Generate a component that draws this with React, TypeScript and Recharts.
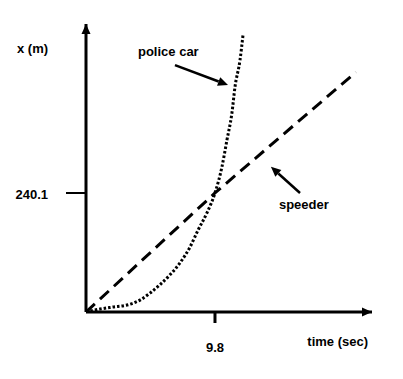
import React from "react";
import { LineChart, Line, XAxis, YAxis, ReferenceLine, ReferenceDot, Label } from "recharts";

// Police car position (m) vs time (sec)
const policeTime = [0, 1.06, 2.05, 3.11, 4.1, 4.86, 5.62, 6.38, 7.14, 7.9, 8.51, 9.19, 9.8, 10.33, 10.71, 11.09, 11.32, 11.7, 11.93];
const policePos = [0, 6, 10, 14, 24, 38, 55, 75, 99, 131, 165, 200, 240.1, 293, 347, 402, 454, 508, 559];

// Speeder position (m) vs time (sec)
const speederTime = [0, 9.8, 20.51];
const speederPos = [0, 240.1, 484];

// Tick values
const xTicks = [9.8];
const yTicks = [240.1];
const xTickLabels = ["9.8"];
const yTickLabels = ["240.1"];

const X_MAX = 21.73;
const Y_MAX = 581;

const policeData = policeTime.map((t, i) => ({ t, x: policePos[i] }));
const speederData = speederTime.map((t, i) => ({ t, x: speederPos[i] }));

const FONT = "'Liberation Sans', Arial, sans-serif";
const textStyle = { fontFamily: FONT, fontWeight: 700, fontSize: 13, fill: "#000" } as const;

const arrowShape = (props: any) => {
  const { x1, y1, x2, y2 } = props;
  const ang = Math.atan2(y2 - y1, x2 - x1);
  const len = 10;
  const hw = 4.5;
  const bx = x2 - len * Math.cos(ang);
  const by = y2 - len * Math.sin(ang);
  const px = -Math.sin(ang) * hw;
  const py = Math.cos(ang) * hw;
  return (
    <g>
      <line x1={x1} y1={y1} x2={bx} y2={by} stroke="#000" strokeWidth={2.5} />
      <polygon points={`${x2},${y2} ${bx + px},${by + py} ${bx - px},${by - py}`} fill="#000" />
    </g>
  );
};

const XTick = (props: any) => {
  const { x, y, payload } = props;
  const idx = xTicks.indexOf(payload.value);
  return (
    <text x={x} y={y + 29} textAnchor="middle" style={textStyle}>
      {xTickLabels[idx] ?? payload.value}
    </text>
  );
};

const YTick = (props: any) => {
  const { x, y, payload } = props;
  const idx = yTicks.indexOf(payload.value);
  return (
    <text x={x - 18} y={y + 6} textAnchor="end" style={textStyle}>
      {yTickLabels[idx] ?? payload.value}
    </text>
  );
};

export default function App() {
  return (
    <LineChart width={387} height={360} margin={{ top: 16, right: 23, bottom: 6, left: 18 }}>
      <XAxis
        type="number"
        dataKey="t"
        domain={[0, X_MAX]}
        ticks={xTicks}
        interval={0}
        height={50}
        tickSize={11}
        tickMargin={0}
        axisLine={{ stroke: "#000", strokeWidth: 3 }}
        tickLine={{ stroke: "#000", strokeWidth: 3 }}
        tick={<XTick />}
        allowDataOverflow
      >
        <Label
          content={(p: any) => {
            const vb = p.viewBox;
            return (
              <text x={vb.x + vb.width - 4} y={vb.y + 34} textAnchor="end" style={textStyle}>
                time (sec)
              </text>
            );
          }}
        />
      </XAxis>
      <YAxis
        type="number"
        dataKey="x"
        domain={[0, Y_MAX]}
        ticks={yTicks}
        interval={0}
        width={60}
        tickSize={20}
        tickMargin={0}
        axisLine={{ stroke: "#000", strokeWidth: 3 }}
        tickLine={{ stroke: "#000", strokeWidth: 2 }}
        tick={<YTick />}
        allowDataOverflow
      >
        <Label
          content={(p: any) => {
            const vb = p.viewBox;
            return (
              <text x={vb.x - 9} y={vb.y + 29} textAnchor="start" style={textStyle}>
                x (m)
              </text>
            );
          }}
        />
      </YAxis>
      <Line
        data={speederData}
        dataKey="x"
        type="linear"
        stroke="#000"
        strokeWidth={3}
        strokeDasharray="12 7"
        dot={false}
        activeDot={false}
        isAnimationActive={false}
      />
      <Line
        data={policeData}
        dataKey="x"
        type="monotone"
        stroke="#000"
        strokeWidth={3}
        strokeDasharray="2.5 2"
        dot={false}
        activeDot={false}
        isAnimationActive={false}
      />
      {/* axis arrowheads */}
      <ReferenceDot
        x={X_MAX}
        y={0}
        ifOverflow="visible"
        shape={(p: any) => (
          <polygon points={`${p.cx},${p.cy} ${p.cx - 10},${p.cy - 4.5} ${p.cx - 10},${p.cy + 4.5}`} fill="#000" />
        )}
      />
      <ReferenceDot
        x={0}
        y={Y_MAX}
        ifOverflow="visible"
        shape={(p: any) => (
          <polygon points={`${p.cx},${p.cy} ${p.cx - 4.5},${p.cy + 10} ${p.cx + 4.5},${p.cy + 10}`} fill="#000" />
        )}
      />
      {/* annotations */}
      <ReferenceLine
        segment={[{ x: 6.76, y: 498 }, { x: 10.79, y: 458 }]}
        ifOverflow="visible"
        shape={arrowShape}
      />
      <ReferenceLine
        segment={[{ x: 16.26, y: 240 }, { x: 14.05, y: 293 }]}
        ifOverflow="visible"
        shape={arrowShape}
      />
      <ReferenceDot
        x={3.95}
        y={516}
        ifOverflow="visible"
        shape={(p: any) => (
          <text x={p.cx} y={p.cy} style={textStyle}>
            police car
          </text>
        )}
      />
      <ReferenceDot
        x={14.66}
        y={208}
        ifOverflow="visible"
        shape={(p: any) => (
          <text x={p.cx} y={p.cy} style={textStyle}>
            speeder
          </text>
        )}
      />
    </LineChart>
  );
}
